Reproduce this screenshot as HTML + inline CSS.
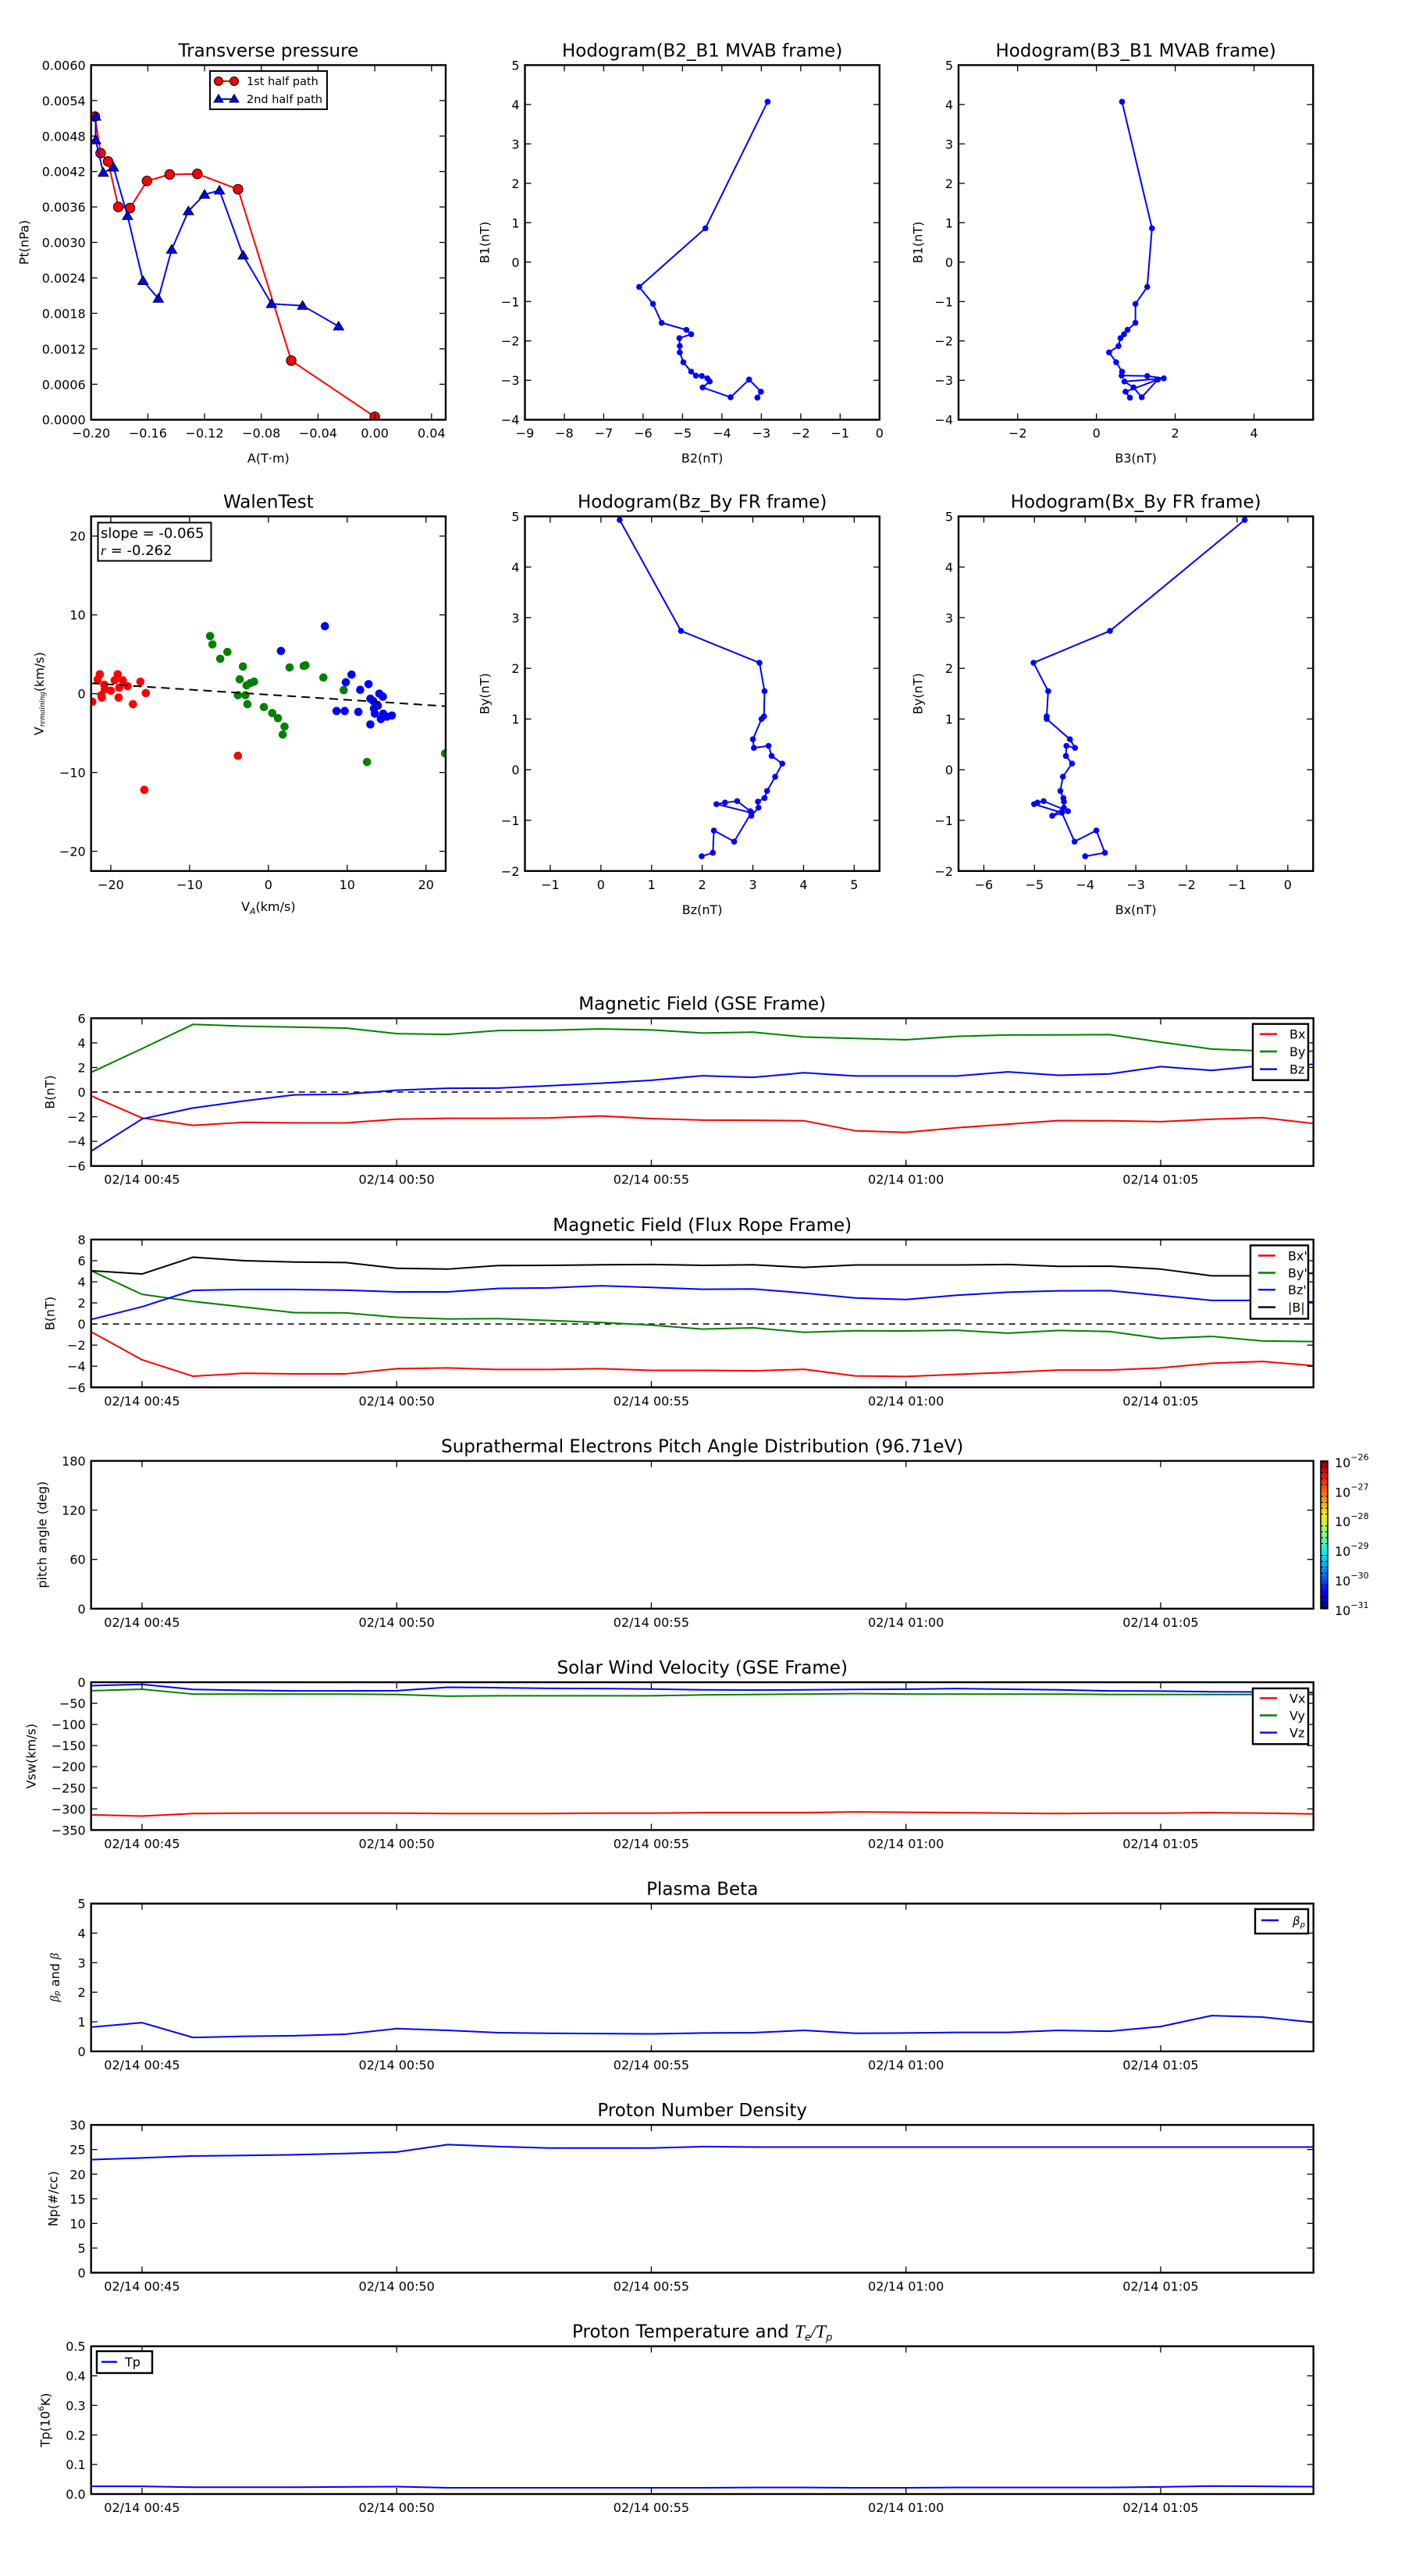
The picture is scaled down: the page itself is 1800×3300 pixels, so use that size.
<!DOCTYPE html>
<html><head><meta charset="utf-8">
<style>
body{margin:0;background:#fff}
svg{display:block;font-family:"DejaVu Sans","Liberation Sans",sans-serif}
</style></head>
<body>
<svg id="fig" width="1800" height="3300" viewBox="0 0 1800 3300" xmlns="http://www.w3.org/2000/svg">
<defs>
<linearGradient id="jet" x1="0" y1="1" x2="0" y2="0">
<stop offset="0" stop-color="#00007f"/><stop offset="0.11" stop-color="#0000ff"/>
<stop offset="0.36" stop-color="#00e5ff"/><stop offset="0.5" stop-color="#7dff7a"/>
<stop offset="0.64" stop-color="#ffea00"/><stop offset="0.89" stop-color="#ff1300"/>
<stop offset="1" stop-color="#7f0000"/></linearGradient>
</defs>
<rect width="1800" height="3300" fill="#fff"/>
</svg>
<script>
// ---------- data ----------
const ptRedA=[-0.1973,-0.1933,-0.1880,-0.1808,-0.1726,-0.1606,-0.1446,-0.1251,-0.0964,-0.0589,0.0];
const ptRedP=[0.00513,0.00451,0.00437,0.00360,0.00358,0.00404,0.00415,0.00416,0.00390,0.00100,0.00005];
const ptBlueA=[-0.1968,-0.1968,-0.1914,-0.1842,-0.1743,-0.1634,-0.1526,-0.1432,-0.1314,-0.1200,-0.1095,-0.0928,-0.0728,-0.0509,-0.0255];
const ptBlueP=[0.00513,0.00473,0.00418,0.00427,0.00345,0.00235,0.00205,0.00288,0.00353,0.00381,0.00388,0.00278,0.00196,0.00193,0.00158];
const hB1=[4.07,0.86,-0.63,-1.06,-1.54,-1.72,-1.83,-1.93,-2.13,-2.29,-2.54,-2.78,-2.88,-2.89,-2.95,-3.03,-3.18,-3.43,-2.98,-3.29,-3.44];
const hB2=[-2.84,-4.42,-6.10,-5.75,-5.53,-4.90,-4.78,-5.08,-5.07,-5.07,-4.98,-4.78,-4.66,-4.51,-4.37,-4.31,-4.49,-3.78,-3.31,-3.01,-3.10];
const hB3=[0.65,1.41,1.29,0.99,0.99,0.79,0.70,0.61,0.56,0.32,0.50,0.65,0.64,1.29,1.71,0.71,0.94,1.15,1.56,0.74,0.85];
const frBy=[4.93,2.74,2.11,1.55,1.05,1.0,0.60,0.43,0.47,0.27,0.12,-0.14,-0.42,-0.56,-0.63,-0.75,-0.91,-0.82,-0.62,-0.65,-0.68,-0.85,-1.42,-1.20,-1.64,-1.71];
const frBz=[0.37,1.58,3.13,3.23,3.22,3.17,3.0,3.02,3.31,3.37,3.58,3.44,3.28,3.23,3.10,3.11,2.97,2.95,2.69,2.45,2.28,2.97,2.63,2.23,2.21,1.99];
const frBx=[-0.85,-3.51,-5.02,-4.73,-4.76,-4.76,-4.30,-4.20,-4.37,-4.38,-4.26,-4.44,-4.49,-4.43,-4.42,-4.42,-4.65,-4.34,-4.82,-4.94,-5.01,-4.46,-4.21,-3.78,-3.61,-4.00];
const wRedX=[-22.35,-21.40,-21.67,-21.21,-21.14,-20.83,-20.76,-20.0,-19.13,-19.51,-18.94,-19.01,-18.48,-17.87,-17.19,-16.24,-15.56,-15.75,-3.87];
const wRedY=[-1.02,2.46,1.78,-0.19,-0.49,1.14,0.57,0.38,2.46,1.70,0.76,-0.49,1.70,0.95,-1.33,1.52,0.08,-12.2,-7.88];
const wGreenX=[-7.40,-7.10,-6.11,-5.20,-3.23,-3.64,-3.87,-2.92,-2.66,-2.77,-2.31,-1.82,-0.57,0.49,1.21,2.05,1.82,2.69,4.48,4.71,6.98,9.56,12.52,22.43];
const wGreenY=[7.31,6.25,4.43,5.30,3.45,1.82,-0.19,-0.19,-1.33,1.06,1.33,1.52,-1.70,-2.46,-3.11,-4.17,-5.19,3.33,3.52,3.60,2.05,0.45,-8.67,-7.58];
const wBlueX=[7.17,1.59,10.55,9.83,11.65,12.71,8.65,9.68,11.42,12.94,14.08,14.53,13.32,13.89,13.40,13.51,14.57,15.03,15.67,14.27,12.94];
const wBlueY=[8.56,5.42,2.42,1.44,0.49,1.21,-2.20,-2.20,-2.31,-0.64,0.0,-0.38,-0.95,-1.52,-1.89,-2.54,-2.54,-2.92,-2.77,-3.22,-3.90];
const walenSlope=-0.065, walenIntercept=-0.13;
// time series: minutes after 00:44
const tMin=[0,1,2,3,4,5,6,7,8,9,10,11,12,13,14,15,16,17,18,19,20,21,22,23,24];
const timeTicks=[1,6,11,16,21];
const timeLabels=['02/14 00:45','02/14 00:50','02/14 00:55','02/14 01:00','02/14 01:05'];
const gseBx=[-0.3,-2.1,-2.7,-2.45,-2.5,-2.5,-2.2,-2.13,-2.13,-2.1,-1.94,-2.15,-2.27,-2.29,-2.33,-3.14,-3.27,-2.9,-2.6,-2.31,-2.33,-2.4,-2.2,-2.07,-2.55];
const gseBy=[1.6,3.53,5.5,5.35,5.28,5.2,4.75,4.69,5.0,5.03,5.13,5.05,4.8,4.87,4.47,4.36,4.25,4.53,4.64,4.65,4.67,4.06,3.5,3.34,3.32];
const gseBz=[-4.8,-2.18,-1.29,-0.72,-0.22,-0.17,0.15,0.31,0.33,0.52,0.72,0.96,1.33,1.2,1.57,1.31,1.31,1.31,1.64,1.37,1.48,2.07,1.76,2.16,2.25];
const frTBx=[-0.74,-3.39,-4.95,-4.67,-4.72,-4.72,-4.23,-4.16,-4.31,-4.31,-4.23,-4.39,-4.39,-4.44,-4.29,-4.92,-4.97,-4.77,-4.59,-4.36,-4.36,-4.16,-3.72,-3.55,-3.95];
const frTBy=[5.05,2.81,2.14,1.61,1.07,1.05,0.64,0.48,0.51,0.33,0.15,-0.1,-0.48,-0.36,-0.79,-0.64,-0.66,-0.59,-0.87,-0.61,-0.71,-1.38,-1.17,-1.61,-1.66];
const frTBz=[0.43,1.63,3.19,3.27,3.27,3.21,3.04,3.04,3.37,3.42,3.62,3.47,3.29,3.32,2.93,2.47,2.32,2.73,3.01,3.14,3.16,2.70,2.24,2.24,2.09];
const frTB=[5.05,4.74,6.33,6.0,5.87,5.82,5.28,5.2,5.54,5.56,5.61,5.64,5.56,5.61,5.36,5.59,5.59,5.59,5.64,5.46,5.48,5.2,4.57,4.57,4.82];
const vx=[-314,-317,-311,-310,-310,-310,-310,-311,-311,-311,-310,-310,-309,-309,-309,-307,-308,-309,-310,-311,-310,-310,-309,-310,-312];
const vy=[-20,-16.5,-28,-28,-28,-28,-29,-33,-32,-32,-32,-32,-30,-29,-28,-27,-28,-28,-28,-28,-29,-29,-29,-29,-29];
const vz=[-8,-5,-17,-19,-20.5,-20.5,-20,-12,-13,-14.5,-15,-16,-18,-18.5,-18,-17,-16.5,-15,-16.5,-18,-20.5,-21,-22.5,-23,-24.5];
const betaP=[0.82,0.97,0.47,0.51,0.53,0.58,0.77,0.71,0.63,0.61,0.6,0.59,0.62,0.63,0.71,0.61,0.62,0.64,0.64,0.71,0.68,0.84,1.21,1.16,0.98];
const np=[22.95,23.3,23.7,23.8,23.95,24.2,24.5,26.0,25.6,25.3,25.3,25.3,25.6,25.5,25.5,25.5,25.5,25.5,25.5,25.5,25.5,25.5,25.5,25.5,25.5];
const tp=[0.026,0.026,0.023,0.023,0.023,0.024,0.025,0.021,0.021,0.021,0.021,0.021,0.021,0.022,0.022,0.021,0.021,0.022,0.022,0.022,0.022,0.024,0.027,0.026,0.025];

// ---------- helpers ----------
const NS='http://www.w3.org/2000/svg';
const svg=document.getElementById('fig');
function mk(tag,attrs,parent){const e=document.createElementNS(NS,tag);for(const k in attrs)e.setAttribute(k,attrs[k]);(parent||svg).appendChild(e);return e;}
const M=s=>String(s).replace(/-/g,'\u2212');
let clipN=0;
function axes(nm,x0,y0,w,h,xr,yr){
  const g=mk('g',{});
  
  
  const id='clip'+(clipN++);
  const cp=mk('clipPath',{id:id},g);
  mk('rect',{x:x0,y:y0,width:w,height:h},cp);
  const dg=mk('g',{'clip-path':'url(#'+id+')'},g);
  
  
  return {g:g,dg:dg,x0:x0,y0:y0,w:w,h:h,
    sx:v=>x0+(v-xr[0])/(xr[1]-xr[0])*w,
    sy:v=>y0+h-(v-yr[0])/(yr[1]-yr[0])*h};
}
function ticks(ax,xt,xl,yt,yl,len,rightTicks){
  xt.forEach((v,i)=>{
    const X=ax.sx(v);
    const a=mk('line',{x1:X,x2:X,y1:ax.y0+ax.h,y2:ax.y0+ax.h-len,stroke:'#000','stroke-width':1.3},ax.g);
    
    
    const b=mk('line',{x1:X,x2:X,y1:ax.y0,y2:ax.y0+len,stroke:'#000','stroke-width':1.3},ax.g);
    
    
    const t=mk('text',{x:X,y:ax.y0+ax.h+23,'text-anchor':'middle','font-size':16},ax.g);
    t.textContent=xl[i];
    
    
  });
  yt.forEach((v,i)=>{
    const Y=ax.sy(v);
    const a=mk('line',{x1:ax.x0,x2:ax.x0+len,y1:Y,y2:Y,stroke:'#000','stroke-width':1.3},ax.g);
    
    
    if(rightTicks!==false){
      const b=mk('line',{x1:ax.x0+ax.w,x2:ax.x0+ax.w-len,y1:Y,y2:Y,stroke:'#000','stroke-width':1.3},ax.g);
      
      
    }
    const t=mk('text',{x:ax.x0-7,y:Y+6,'text-anchor':'end','font-size':16},ax.g);
    t.textContent=yl[i];
    
    
  });
}
function frame(ax){
  const r=mk('rect',{x:ax.x0,y:ax.y0,width:ax.w,height:ax.h,fill:'none',stroke:'#000','stroke-width':2.4},ax.g);
  
  
}
function title(ax,s){
  const t=mk('text',{x:ax.x0+ax.w/2,y:ax.y0-11,'text-anchor':'middle','font-size':23},ax.g);
  t.textContent=s;
  
  
  return t;
}
function xlabel(ax,s,dy){
  const t=mk('text',{x:ax.x0+ax.w/2,y:ax.y0+ax.h+dy,'text-anchor':'middle','font-size':16},ax.g);
  t.textContent=s;
  
  
  return t;
}
function ylabel(ax,s,cx){
  const cy=ax.y0+ax.h/2;
  const t=mk('text',{x:cx,y:cy,transform:'rotate(-90 '+cx+' '+cy+')','text-anchor':'middle','dominant-baseline':'central','font-size':16},ax.g);
  t.textContent=s;
  
  
  return t;
}
function series(ax,xs,ys,color,nm,w,dash){
  const pts=xs.map((x,i)=>ax.sx(x).toFixed(2)+','+ax.sy(ys[i]).toFixed(2)).join(' ');
  const p=mk('polyline',{points:pts,fill:'none',stroke:color,'stroke-width':w||2,'stroke-linejoin':'round'},ax.dg);
  if(dash)p.setAttribute('stroke-dasharray',dash);
  
  
  return p;
}
function dots(ax,xs,ys,color,nm,r,edge){
  xs.forEach((x,i)=>{
    const c=mk('circle',{cx:ax.sx(x),cy:ax.sy(ys[i]),r:r,fill:color,stroke:edge||'none','stroke-width':edge?1:0},ax.dg);
    
    
  });
}
function tris(ax,xs,ys,color,nm,s){
  xs.forEach((x,i)=>{
    const X=ax.sx(x),Y=ax.sy(ys[i]);
    const p=mk('polygon',{points:`${X},${Y-s} ${X-s*1.05},${Y+s*0.75} ${X+s*1.05},${Y+s*0.75}`,fill:color,stroke:'#000','stroke-width':1},ax.dg);
    
    
  });
}
function legend(ax,bx,by,bw,bh,entries,ys,lx1,lx2,tx,fs){
  const g=mk('g',{},ax.g);
  
  
  mk('rect',{x:bx,y:by,width:bw,height:bh,fill:'#fff',stroke:'#000','stroke-width':2.4},g);
  const texts=[];
  entries.forEach((e,i)=>{
    const l=mk('line',{x1:lx1,x2:lx2,y1:ys[i],y2:ys[i],stroke:e[1],'stroke-width':2.4},g);
    
    
    const t=mk('text',{x:tx,y:ys[i]+6,'font-size':fs||16},g);
    t.textContent=e[0];
    
    
    texts.push(t);
  });
  return texts;
}
const range=(a,b,s)=>{const r=[];for(let v=a;v<=b+1e-9;v+=s)r.push(+v.toFixed(6));return r;};

// ---------- Transverse pressure ----------
(function(){
  const ax=axes('transverse-pressure-chart',116.7,83.4,454.3,454.3,[-0.2,0.05],[0,0.006]);
  const xt=range(-0.2,0.04,0.04), yt=range(0,0.006,0.0006);
  series(ax,ptRedA,ptRedP,'#ff0000','first-half-path-line',2);
  dots(ax,ptRedA,ptRedP,'#ff0000','first-half-path-point',6.2,'#000');
  series(ax,ptBlueA,ptBlueP,'#0000ff','second-half-path-line',2);
  tris(ax,ptBlueA,ptBlueP,'#0000ff','second-half-path-point',6.3);
  ticks(ax,xt,xt.map(v=>M(v.toFixed(2))),yt,yt.map(v=>v.toFixed(4)),8);
  frame(ax); title(ax,'Transverse pressure');
  xlabel(ax,'A(T\u00b7m)',55); ylabel(ax,'Pt(nPa)',31);
  const lg=mk('g',{},ax.g);
  
  
  mk('rect',{x:269,y:91,width:150,height:49,fill:'#fff',stroke:'#000','stroke-width':2},lg);
  mk('line',{x1:280,x2:300,y1:104,y2:104,stroke:'#f00','stroke-width':2},lg);
  mk('circle',{cx:280,cy:104,r:5.5,fill:'#f00',stroke:'#000'},lg);
  mk('circle',{cx:300,cy:104,r:5.5,fill:'#f00',stroke:'#000'},lg);
  const t1=mk('text',{x:316,y:109,'font-size':14.5},lg); t1.textContent='1st half path';
  
  
  mk('line',{x1:280,x2:300,y1:127,y2:127,stroke:'#00f','stroke-width':2},lg);
  mk('polygon',{points:'280,121 274,131 286,131',fill:'#00f',stroke:'#000'},lg);
  mk('polygon',{points:'300,121 294,131 306,131',fill:'#00f',stroke:'#000'},lg);
  const t2=mk('text',{x:316,y:132,'font-size':14.5},lg); t2.textContent='2nd half path';
  
  
})();

// ---------- Hodograms ----------
function hodo(nm,x0,y0,xr,yr,xs,ys,xt,yt,ttl,xl,yl,ylx){
  const ax=axes(nm,x0,y0,454.3,454.3,xr,yr);
  series(ax,xs,ys,'#0000ff',nm+'-line',2);
  dots(ax,xs,ys,'#0000ff',nm+'-point',3.8);
  ticks(ax,xt,xt.map(v=>M(v)),yt,yt.map(v=>M(v)),8);
  frame(ax); title(ax,ttl); xlabel(ax,xl,55); ylabel(ax,yl,ylx);
  return ax;
}
hodo('hodogram-b2-b1',672.5,83.4,[-9,0],[-4,5],hB2,hB1,range(-9,0,1),range(-4,5,1),'Hodogram(B2_B1 MVAB frame)','B2(nT)','B1(nT)',621);
hodo('hodogram-b3-b1',1228,83.4,[-3.5,5.5],[-4,5],hB3,hB1,[-2,0,2,4],range(-4,5,1),'Hodogram(B3_B1 MVAB frame)','B3(nT)','B1(nT)',1176);
hodo('hodogram-bz-by',672.5,661.5,[-1.5,5.5],[-2,5],frBz,frBy,range(-1,5,1),range(-2,5,1),'Hodogram(Bz_By FR frame)','Bz(nT)','By(nT)',621);
hodo('hodogram-bx-by',1228,661.5,[-6.5,0.5],[-2,5],frBx,frBy,range(-6,0,1),range(-2,5,1),'Hodogram(Bx_By FR frame)','Bx(nT)','By(nT)',1176);

// ---------- Walen test ----------
(function(){
  const ax=axes('walen-test-chart',116.7,661.5,454.3,454.3,[-22.5,22.5],[-22.5,22.5]);
  const tk=[-20,-10,0,10,20];
  dots(ax,wRedX,wRedY,'#ff0000','walen-red-point',5.3);
  dots(ax,wGreenX,wGreenY,'#008000','walen-green-point',5.3);
  dots(ax,wBlueX,wBlueY,'#0000ff','walen-blue-point',5.3);
  const fx=[-22.5,22.5], fy=fx.map(x=>walenSlope*x+walenIntercept);
  series(ax,fx,fy,'#000','walen-fit-line',2,'11,7');
  ticks(ax,tk,tk.map(v=>M(v)),tk,tk.map(v=>M(v)),8);
  frame(ax); title(ax,'WalenTest');
  const xl=xlabel(ax,'V',51);
  const s1=mk('tspan',{'font-size':11,dy:4,'font-style':'italic'},xl); s1.textContent='A';
  const s2=mk('tspan',{dy:-4},xl); s2.textContent='(km/s)';
  const yl=ylabel(ax,'V',50);
  const s3=mk('tspan',{'font-size':11,dy:4,'font-style':'italic','font-family':'Liberation Serif, serif'},yl); s3.textContent='remaining';
  const s4=mk('tspan',{dy:-4},yl); s4.textContent='(km/s)';
  const g=mk('g',{},ax.g);
  
  
  mk('rect',{x:125.5,y:669.5,width:145,height:49,fill:'#fff',stroke:'#000','stroke-width':2},g);
  const a=mk('text',{x:129,y:689,'font-size':18},g); a.textContent='slope = -0.065';
  const b=mk('text',{x:129,y:711,'font-size':18},g);
  const bi=mk('tspan',{'font-style':'italic','font-family':'Liberation Serif, serif'},b); bi.textContent='r';
  const bt=mk('tspan',{},b); bt.textContent=' = -0.262';
})();

// ---------- Time series ----------
const TSX=116.7, TSW=1566, TSH=189.3;
function tsAxes(k,nm,yr,yt,ytl,ttl){
  const y0=1304.4+k*283.55;
  const ax=axes(nm,TSX,y0,TSW,TSH,[0,24],yr);
  ax.ticksArgs=[timeTicks,timeLabels,yt,ytl];
  ax.ttl=ttl;
  return ax;
}
function tsFinish(ax,rightTicks){
  ticks(ax,ax.ticksArgs[0],ax.ticksArgs[1],ax.ticksArgs[2],ax.ticksArgs[3],8,rightTicks);
  frame(ax);
  return title(ax,ax.ttl);
}
// GSE
(function(){
  const yt=range(-6,6,2);
  const ax=tsAxes(0,'magnetic-field-gse-chart',[-6,6],yt,yt.map(v=>M(v)),'Magnetic Field (GSE Frame)');
  series(ax,[0,24],[0,0],'#000','zero-line',1.5,'8,6');
  series(ax,tMin,gseBx,'#ff0000','bx-line',2);
  series(ax,tMin,gseBy,'#008000','by-line',2);
  series(ax,tMin,gseBz,'#0000ff','bz-line',2);
  tsFinish(ax); ylabel(ax,'B(nT)',64);
  legend(ax,1605,1311.7,71,72,[['Bx','#f00'],['By','#008000'],['Bz','#00f']],[1324.7,1347,1369.7],1614,1636,1652);
})();
// Flux rope
(function(){
  const yt=range(-6,8,2);
  const ax=tsAxes(1,'magnetic-field-flux-rope-chart',[-6,8],yt,yt.map(v=>M(v)),'Magnetic Field (Flux Rope Frame)');
  series(ax,[0,24],[0,0],'#000','zero-line',1.5,'8,6');
  series(ax,tMin,frTBx,'#ff0000','bx-prime-line',2);
  series(ax,tMin,frTBy,'#008000','by-prime-line',2);
  series(ax,tMin,frTBz,'#0000ff','bz-prime-line',2);
  series(ax,tMin,frTB,'#000000','b-magnitude-line',2);
  tsFinish(ax); ylabel(ax,'B(nT)',64);
  legend(ax,1602,1595.4,74,94,[["Bx'",'#f00'],["By'",'#008000'],["Bz'",'#00f'],['|B|','#000']],[1608.5,1630.5,1652.2,1674.6],1612,1634,1650);
})();
// PAD
(function(){
  const yt=[0,60,120,180];
  const ax=tsAxes(2,'pitch-angle-distribution-chart',[0,180],yt,yt.map(String),'Suprathermal Electrons Pitch Angle Distribution (96.71eV)');
  tsFinish(ax); ylabel(ax,'pitch angle (deg)',54);
  const cb=mk('g',{});
  
  
  const y0=ax.y0;
  mk('rect',{x:1692,y:y0,width:9,height:TSH,fill:'url(#jet)',stroke:'#000','stroke-width':1.5},cb);
  const cbExp=[-31,-30,-29,-28,-27,-26];
  cbExp.forEach((e,i)=>{
    const Y=y0+TSH-i*TSH/5;
    const t=mk('text',{x:1710,y:Y+8,'font-size':16},cb);
    t.textContent='10';
    const s=mk('tspan',{dy:-9,'font-size':11},t); s.textContent=M(e);
    
    
    for(let j=1;j<5&&i<5;j++){const yy=Y-j*TSH/25; mk('line',{x1:1692,x2:1695,y1:yy,y2:yy,stroke:'#000','stroke-width':1},cb); mk('line',{x1:1698,x2:1701,y1:yy,y2:yy,stroke:'#000','stroke-width':1},cb);}
  });
})();
// Velocity
(function(){
  const yt=range(-350,0,50);
  const ax=tsAxes(3,'solar-wind-velocity-chart',[-350,0],yt,yt.map(v=>M(v)),'Solar Wind Velocity (GSE Frame)');
  series(ax,tMin,vx,'#ff0000','vx-line',2);
  series(ax,tMin,vy,'#008000','vy-line',2);
  series(ax,tMin,vz,'#0000ff','vz-line',2);
  tsFinish(ax); ylabel(ax,'Vsw(km/s)',40);
  legend(ax,1605,2162.9,71,71.4,[['Vx','#f00'],['Vy','#008000'],['Vz','#00f']],[2175.4,2197.5,2219.6],1614,1636,1652);
})();
// Beta
(function(){
  const yt=range(0,5,1);
  const ax=tsAxes(4,'plasma-beta-chart',[0,5],yt,yt.map(String),'Plasma Beta');
  series(ax,tMin,betaP,'#0000ff','beta-p-line',2);
  tsFinish(ax);
  const yl=ylabel(ax,'',70);
  const a=mk('tspan',{'font-style':'italic','font-family':'Liberation Serif, serif'},yl); a.textContent='\u03b2';
  const b=mk('tspan',{'font-size':10,dy:3,'font-style':'italic'},yl); b.textContent='p';
  const c=mk('tspan',{dy:-3},yl); c.textContent=' and ';
  const d=mk('tspan',{'font-style':'italic','font-family':'Liberation Serif, serif'},yl); d.textContent='\u03b2';
  const lt=legend(ax,1608,2445.7,68,31.3,[['\u03b2','#00f']],[2460],1616,1638,1656,15);
  lt[0].setAttribute('font-style','italic');
  const sp=mk('tspan',{'font-size':10,dy:3},lt[0]); sp.textContent='p';
})();
// Density
(function(){
  const yt=range(0,30,5);
  const ax=tsAxes(5,'proton-density-chart',[0,30],yt,yt.map(String),'Proton Number Density');
  series(ax,tMin,np,'#0000ff','np-line',2);
  tsFinish(ax); ylabel(ax,'Np(#/cc)',68);
})();
// Temperature
(function(){
  const yt=range(0,0.5,0.1);
  const ax=tsAxes(6,'proton-temperature-chart',[0,0.5],yt,yt.map(v=>v.toFixed(1)),'Proton Temperature and ');
  series(ax,tMin,tp,'#0000ff','tp-line',2);
  const t=tsFinish(ax);
  const a=mk('tspan',{'font-style':'italic','font-family':'Liberation Serif, serif'},t); a.textContent='T';
  const b=mk('tspan',{'font-size':13,dy:4,'font-style':'italic'},t); b.textContent='e';
  const c=mk('tspan',{dy:-4,'font-style':'italic','font-family':'Liberation Serif, serif'},t); c.textContent='/T';
  const d=mk('tspan',{'font-size':13,dy:4,'font-style':'italic'},t); d.textContent='p';
  const yl=ylabel(ax,'Tp(10',58);
  const e=mk('tspan',{'font-size':10,dy:-5},yl); e.textContent='6';
  const f=mk('tspan',{dy:5},yl); f.textContent='K)';
  legend(ax,124,3012,71,28,[['Tp','#00f']],[3025.7],130,150,160);
})();
</script>
</body></html>
